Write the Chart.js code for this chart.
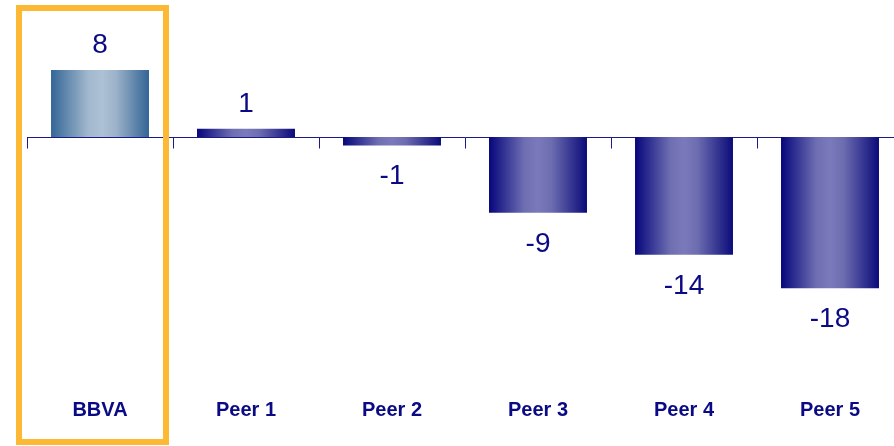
<!DOCTYPE html>
<html>
<head>
<meta charset="utf-8">
<script src="https://cdn.jsdelivr.net/npm/chart.js@4/dist/chart.umd.min.js"></script>
<style>
  html, body { margin: 0; padding: 0; background: #ffffff; overflow: hidden; }
  #wrap { width: 904px; height: 446px; }
</style>
</head>
<body>
<div id="wrap"><canvas id="c" width="904" height="446"></canvas></div>
<script>
const categories = ["BBVA", "Peer 1", "Peer 2", "Peer 3", "Peer 4", "Peer 5"];
const values = [8, 1, -1, -9, -14, -18];
const highlightIndex = 0;

const NAVY = "#0a0a84";
const FONT = "'Liberation Sans', Arial, Helvetica, sans-serif";
const BAR_PCT = 0.671;

function barGradient(ctx) {
  const chart = ctx.chart;
  const xs = chart.scales.x;
  if (!xs || !chart.chartArea) return "#3a3a9a";
  const cx = xs.getPixelForValue(ctx.dataIndex);
  const half = (xs.width / categories.length) * BAR_PCT / 2;
  const g = chart.ctx.createLinearGradient(cx - half, 0, cx + half, 0);
  if (ctx.dataIndex === highlightIndex) {
    g.addColorStop(0, "#346697");
    g.addColorStop(0.38, "#a2b8ce");
    g.addColorStop(0.52, "#adc1d5");
    g.addColorStop(0.66, "#9db3ca");
    g.addColorStop(1, "#336495");
  } else {
    g.addColorStop(0, "#06067c");
    g.addColorStop(0.36, "#6e6eb2");
    g.addColorStop(0.5, "#7a7abb");
    g.addColorStop(0.64, "#6c6cb0");
    g.addColorStop(1, "#0b0b7a");
  }
  return g;
}

const decor = {
  id: "decor",
  beforeDatasetsDraw(chart) {
    const c = chart.ctx, xs = chart.scales.x, ys = chart.scales.y;
    const y0 = Math.round(ys.getPixelForValue(0)) + 0.5;
    const step = xs.width / categories.length;
    c.save();
    c.strokeStyle = "#1a1a8c";
    c.lineWidth = 1;
    c.beginPath();
    c.moveTo(xs.left, y0);
    c.lineTo(chart.width, y0);
    for (let i = 0; i <= categories.length; i++) {
      const x = Math.round(xs.getPixelForValue(i) - step / 2) + 0.5;
      c.moveTo(x, y0);
      c.lineTo(x, y0 + 11);
    }
    c.stroke();
    c.restore();
  },
  afterDatasetsDraw(chart) {
    const c = chart.ctx, xs = chart.scales.x;
    const meta = chart.getDatasetMeta(0);
    c.save();
    c.fillStyle = NAVY;
    c.font = "28px " + FONT;
    c.textAlign = "center";
    c.textBaseline = "alphabetic";
    meta.data.forEach((el, i) => {
      const v = values[i];
      if (v >= 0) {
        c.fillText(String(v), el.x, el.y - 17);
      } else {
        c.fillText(String(v), el.x, el.y + 39);
      }
    });
    // highlight box
    const step = xs.width / categories.length;
    const left = xs.getPixelForValue(highlightIndex) - step / 2;
    c.strokeStyle = "#fdb934";
    c.lineWidth = 6;
    c.strokeRect(left - 8, 8, step + 1, 434);
    c.restore();
  }
};

new Chart(document.getElementById("c"), {
  type: "bar",
  data: {
    labels: categories,
    datasets: [{
      data: values,
      backgroundColor: barGradient,
      borderWidth: 0,
      barPercentage: BAR_PCT,
      categoryPercentage: 1
    }]
  },
  options: {
    responsive: false,
    animation: false,
    devicePixelRatio: 1,
    layout: { padding: { left: 27, right: 1, top: 1, bottom: 0 } },
    plugins: { legend: { display: false }, tooltip: { enabled: false } },
    scales: {
      x: {
        grid: { display: false, drawTicks: false },
        border: { display: false },
        ticks: {
          color: NAVY,
          font: { family: FONT, size: 20, weight: "bold" },
          padding: 24,
          maxRotation: 0,
          autoSkip: false
        }
      },
      y: {
        display: false,
        min: -28.2,
        max: 16.2
      }
    }
  },
  plugins: [decor]
});
</script>
</body>
</html>
